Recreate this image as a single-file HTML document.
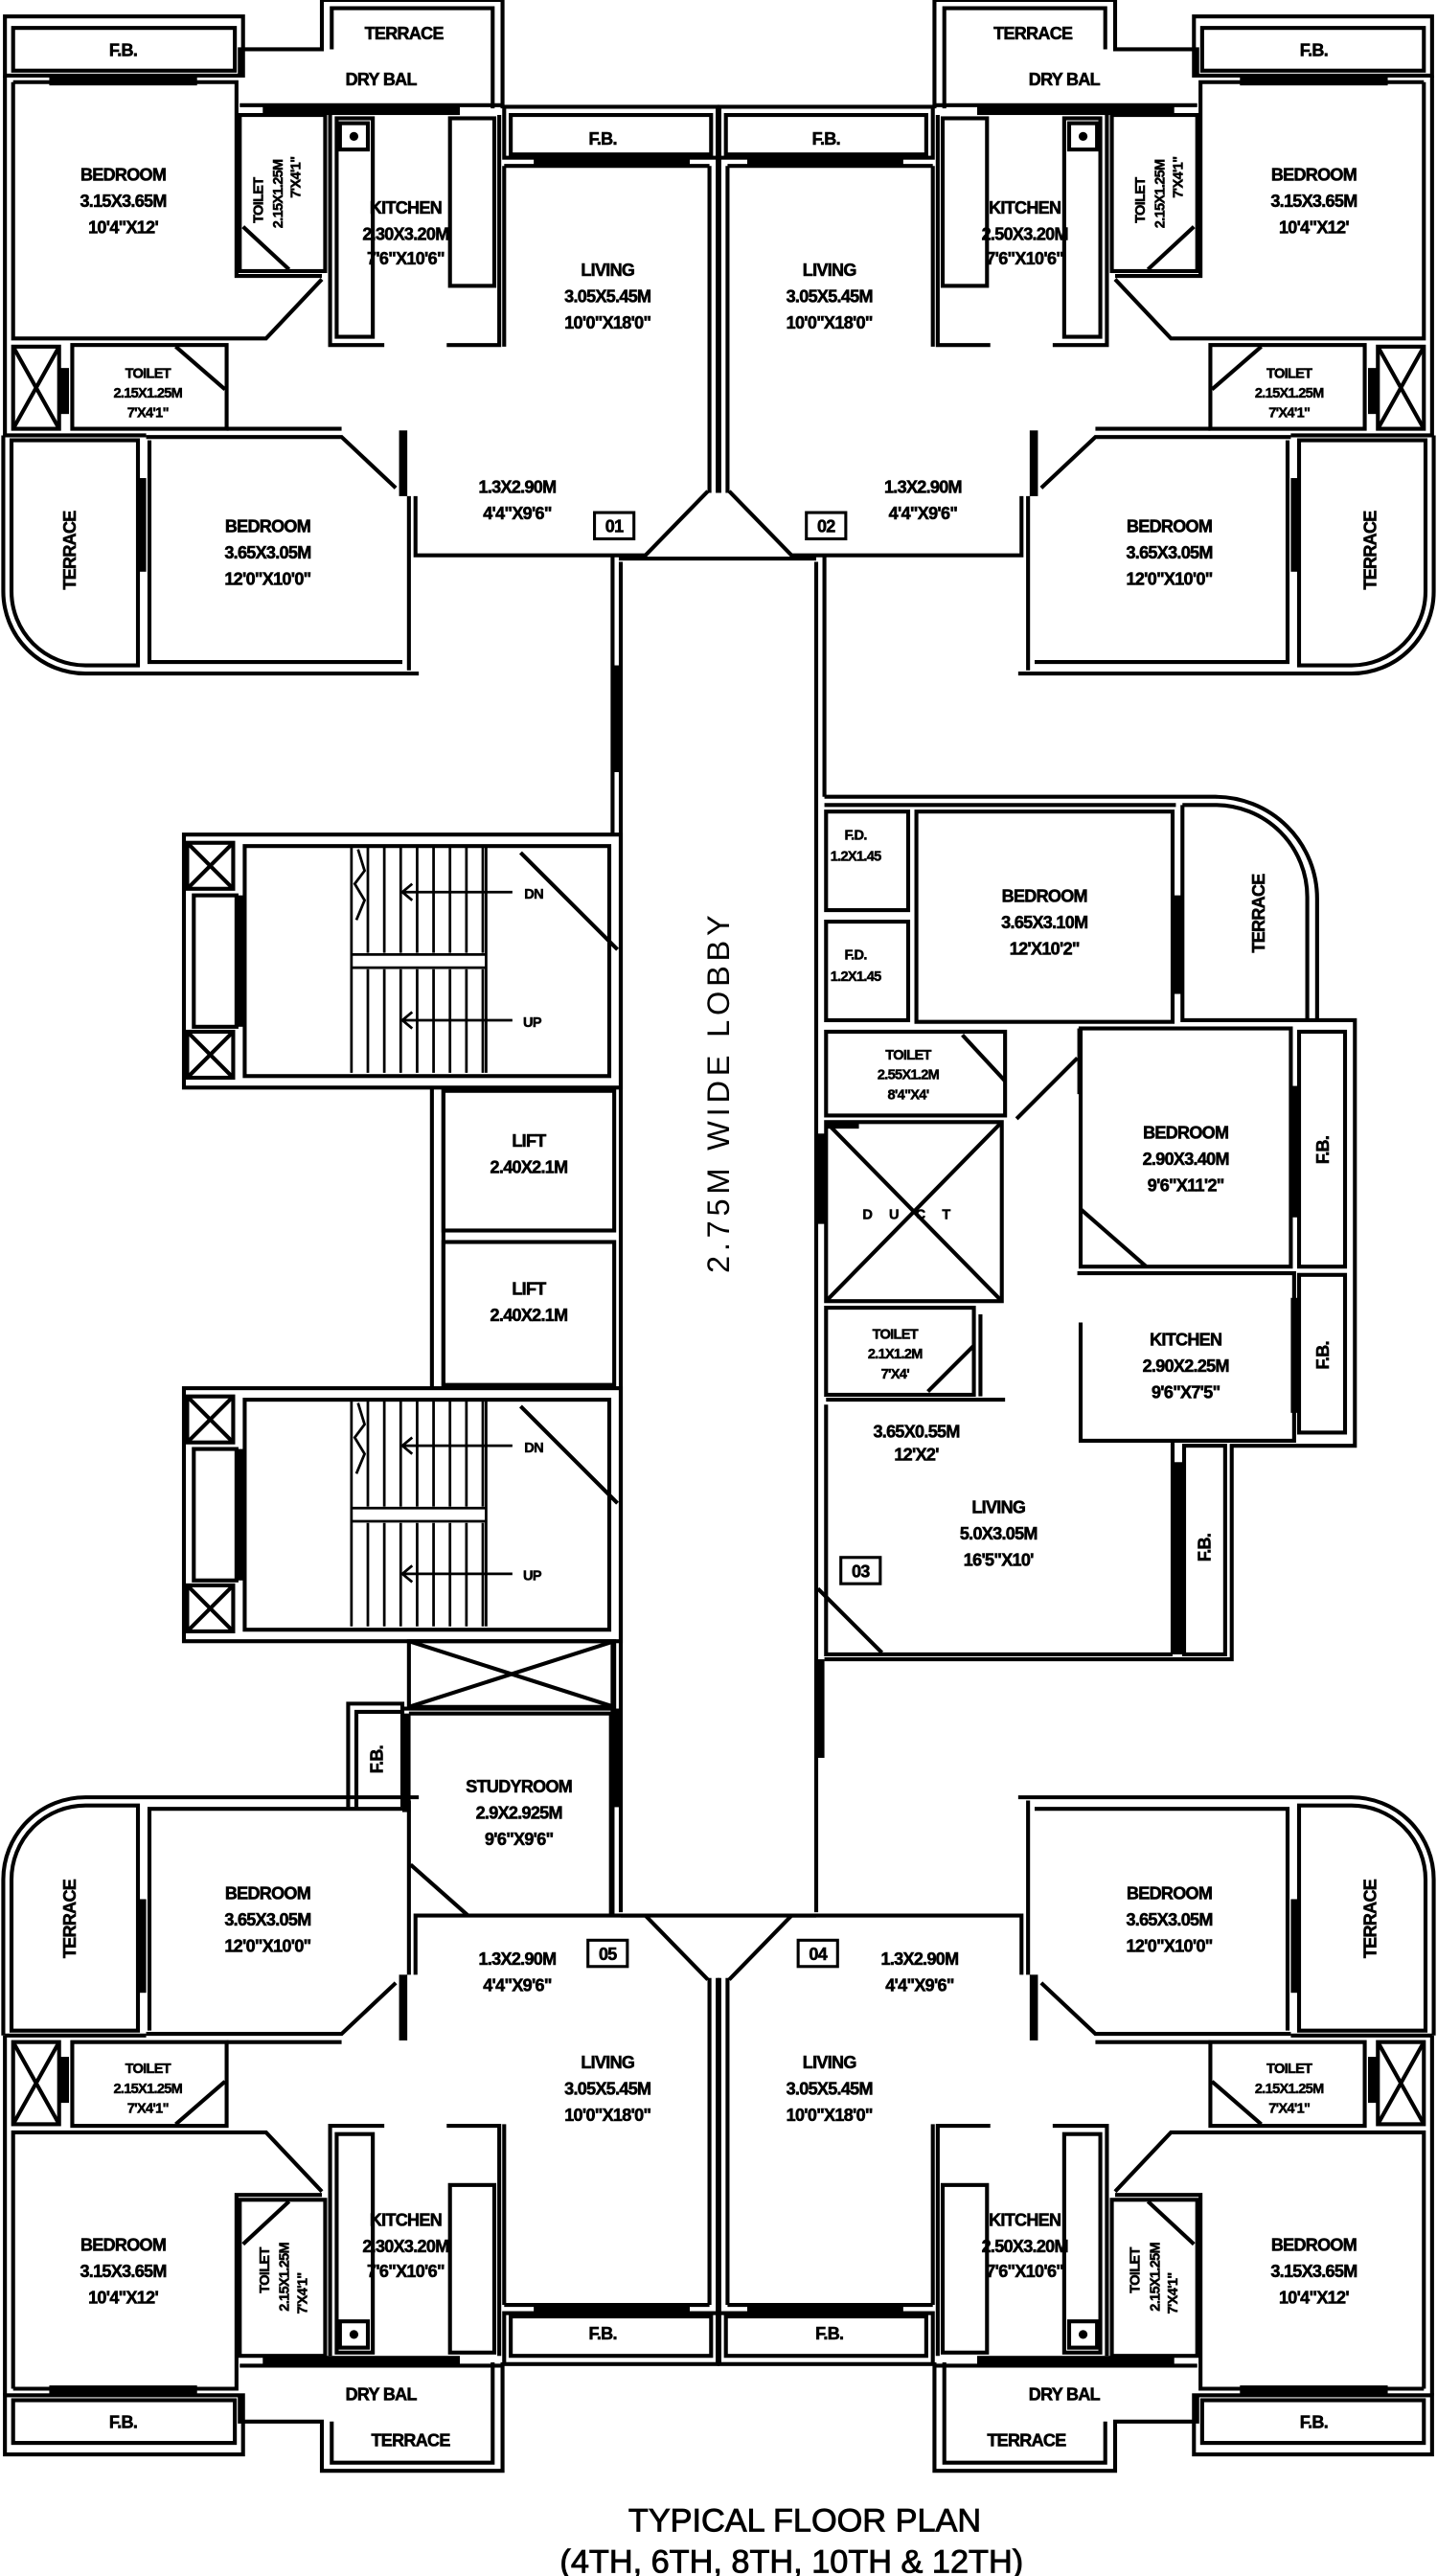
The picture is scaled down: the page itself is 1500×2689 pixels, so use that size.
<!DOCTYPE html>
<html><head><meta charset="utf-8"><style>
html,body{margin:0;padding:0;background:#fff}
svg{display:block}
text{font-family:"Liberation Sans",sans-serif;font-weight:bold;fill:#000;text-anchor:middle}
.l{font-size:10.5px;letter-spacing:-0.4px;stroke:#000;stroke-width:0.35px}
.s{font-size:8.5px;letter-spacing:-0.4px;stroke:#000;stroke-width:0.3px}
</style></head><body>
<svg width="1500" height="2689" viewBox="0 0 875 1568" preserveAspectRatio="none" xmlns="http://www.w3.org/2000/svg">
<defs>
<g id="u" fill="none" stroke="#000" stroke-width="2.4">
 <rect x="3" y="10" width="145" height="36"/>
 <rect x="8" y="17" width="135" height="26"/>
 <path d="M3,46 V265 M8,50 H144 V168 H196 M8,50 V206 H162 L196,170"/>
 <rect x="30" y="46" width="90" height="6" fill="#000" stroke="none"/>
 <path d="M146,46 V30 H196 V0 H306 V66 M202,30 V5 H300 V66 M146,64 H306"/>
 <rect x="160" y="65" width="120" height="5" fill="#000" stroke="none"/>
 <rect x="146" y="70" width="52" height="95"/>
 <path d="M148,138 L176,164"/>
 <path d="M201,70 V210 H234 M304,70 V210 H272"/>
 <rect x="205" y="72" width="22" height="133"/>
 <rect x="207" y="75" width="17" height="16"/>
 <circle cx="215.5" cy="83" r="1.5" fill="#000"/>
 <rect x="274" y="72" width="27" height="102"/>
 <rect x="307" y="65" width="130" height="31"/>
 <rect x="311" y="70" width="122" height="24"/>
 <rect x="325" y="95" width="95" height="6" fill="#000" stroke="none"/>
 <path d="M307,101 V211 M432,101 V300 M438,66 V300"/>
 <path d="M307,101 H432"/>
 <rect x="44" y="210" width="94" height="51"/>
 <path d="M107,211 L137,237"/>
 <rect x="8" y="211" width="28" height="50"/>
 <path d="M8,211 L36,261 M36,211 L8,261"/>
 <rect x="37" y="224" width="5" height="28" fill="#000" stroke="none"/>
 <path d="M3,265 H89 M138,261 H208"/>
 <path d="M89,266 H208 L241,297"/>
 <rect x="243" y="262" width="5" height="40" fill="#000" stroke="none"/>
 <path d="M249,302 V408 M253,302 V338 H393 L431,299"/>
 <path d="M7,268 H84 V405 H52 A45,45 0 0 1 7,360 Z"/>
 <path d="M2,265 V360 A50,50 0 0 0 52,410 H255"/>
 <rect x="84" y="291" width="5" height="57" fill="#000" stroke="none"/>
 <path d="M91,268 V403 H245"/>
</g>
<g id="st" fill="none" stroke="#000" stroke-width="2.4">
 <rect x="112" y="508" width="266" height="154"/>
 <rect x="149" y="515" width="222" height="140"/>
 <rect x="114" y="513" width="28" height="28"/>
 <path d="M114,513 L142,541 M142,513 L114,541"/>
 <rect x="114" y="628" width="28" height="28"/>
 <path d="M114,628 L142,656 M142,628 L114,656"/>
 <rect x="118" y="545" width="26" height="80"/>
 <rect x="144" y="545" width="5" height="80" fill="#000" stroke="none"/>
 <g stroke-width="1.6">
 <path d="M214,515 V653 M224,515 V580 M234,515 V580 M244,515 V580 M254,515 V580 M264,515 V580 M274,515 V580 M284,515 V580 M294,515 V580 M224,590 V653 M234,590 V653 M244,590 V653 M254,590 V653 M264,590 V653 M274,590 V653 M284,590 V653 M294,590 V653 M214,581 H296 M214,589 H296 M296,515 V653"/>
 <path d="M218,517 L222,530 L216,538 L222,548 L217,560"/>
 <path d="M245,543 H312 M251,538 L245,543 L251,548 M245,621 H312 M251,616 L245,621 L251,626"/>
 </g>
 <path d="M317,519 L376,578"/>
</g>
</defs>

<use href="#u"/>
<use href="#u" transform="translate(875,0) scale(-1,1)"/>
<use href="#u" transform="translate(0,1504) scale(1,-1)"/>
<use href="#u" transform="translate(875,1504) scale(-1,-1)"/>

<g fill="none" stroke="#000" stroke-width="2.4">
 <path d="M378,338 V340 H497 M378,1166 H497"/>
 <path d="M373,338 V508 M378,342 V1164 M497,342 V1164 M502,338 V485"/>
 <rect x="373" y="405" width="5" height="65" fill="#000" stroke="none"/>
 <rect x="497" y="690" width="5" height="55" fill="#000" stroke="none"/>
 <rect x="497" y="1010" width="5" height="60" fill="#000" stroke="none"/>
 <rect x="373" y="1040" width="5" height="60" fill="#000" stroke="none"/>
 <path d="M373,1000 V1166"/>
</g>
<use href="#st"/>
<use href="#st" transform="translate(0,337)"/>
<g fill="none" stroke="#000" stroke-width="2.4">
 <path d="M263,662 V845 M270,662 V845"/>
 <rect x="270" y="664" width="104" height="85"/>
 <rect x="270" y="756" width="104" height="87"/>
 <rect x="249" y="999" width="125" height="40"/>
 <path d="M249,999 L374,1039 M374,999 L249,1039"/>
 <path d="M245,1040 H374 M249,1043 H372 V1166"/>
 <path d="M212,1100 V1037 H245 V1100 M217,1100 V1042 H245"/>
 <rect x="245" y="1043" width="5" height="60" fill="#000" stroke="none"/>
 <path d="M250,1135 L285,1166"/>
 <path d="M502,485 H740 A62,62 0 0 1 802,547 V621 M502,490 H716 M720,490 H740 A56,56 0 0 1 796,546 V621"/>
 <rect x="503" y="494" width="50" height="60"/>
 <rect x="503" y="561" width="50" height="60"/>
 <rect x="558" y="494" width="156" height="128"/>
 <rect x="714" y="545" width="6" height="60" fill="#000" stroke="none"/>
 <path d="M720,490 V621 H825 V880 H750 V1010 H502"/>
 <rect x="503" y="628" width="109" height="51"/>
 <path d="M586,630 L612,658"/>
 <rect x="503" y="683" width="107" height="109"/>
 <path d="M503,683 L610,792 M610,683 L503,792"/>
 <rect x="503" y="682" width="20" height="5" fill="#000" stroke="none"/>
 <rect x="503" y="796" width="90" height="53"/>
 <path d="M565,847 L593,819 M597,800 V850 M503,852 H612"/>
 <rect x="658" y="626" width="128" height="145"/>
 <rect x="656" y="626" width="3" height="40" fill="#000" stroke="none"/>
 <path d="M658,736 L698,771 M619,681 L656,644"/>
 <rect x="791" y="628" width="28" height="143"/>
 <rect x="786" y="661" width="5" height="80" fill="#000" stroke="none"/>
 <path d="M656,775 H788 V877 H658 V805"/>
 <rect x="791" y="776" width="28" height="96"/>
 <rect x="786" y="790" width="5" height="70" fill="#000" stroke="none"/>
 <path d="M714,877 V1007 M503,855 V1007 H714"/>
 <rect x="721" y="880" width="25" height="127"/>
 <rect x="714" y="890" width="6" height="117" fill="#000" stroke="none"/>
 <path d="M498,967 L537,1006"/>
</g>

<g fill="none" stroke="#000" stroke-width="1.8">
 <rect x="362" y="312" width="24" height="16"/>
 <rect x="491" y="312" width="24" height="16"/>
 <rect x="358" y="1181" width="24" height="16"/>
 <rect x="486" y="1181" width="24" height="16"/>
 <rect x="512" y="948" width="24" height="16"/>
</g>
<g class="l">
<text x="374" y="324">01</text><text x="503" y="324">02</text>
<text x="370" y="1193">05</text><text x="498" y="1193">04</text>
<text x="524" y="960">03</text>
</g>

<g class="l">
 <text x="75" y="34">F.B.</text><text x="246" y="24">TERRACE</text><text x="232" y="52">DRY BAL</text><text x="367" y="88">F.B.</text>
 <text x="75" y="110">BEDROOM</text><text x="75" y="126">3.15X3.65M</text><text x="75" y="142">10'4"X12'</text>
 <text x="247" y="130">KITCHEN</text><text x="247" y="146">2.30X3.20M</text><text x="247" y="161">7'6"X10'6"</text>
 <text x="370" y="168">LIVING</text><text x="370" y="184">3.05X5.45M</text><text x="370" y="200">10'0"X18'0"</text>
 <text x="315" y="300">1.3X2.90M</text><text x="315" y="316">4'4"X9'6"</text>
 <text x="163" y="324">BEDROOM</text><text x="163" y="340">3.65X3.05M</text><text x="163" y="356">12'0"X10'0"</text>
 <text x="800" y="34">F.B.</text><text x="629" y="24">TERRACE</text><text x="648" y="52">DRY BAL</text><text x="503" y="88">F.B.</text>
 <text x="800" y="110">BEDROOM</text><text x="800" y="126">3.15X3.65M</text><text x="800" y="142">10'4"X12'</text>
 <text x="624" y="130">KITCHEN</text><text x="624" y="146">2.50X3.20M</text><text x="624" y="161">7'6"X10'6"</text>
 <text x="505" y="168">LIVING</text><text x="505" y="184">3.05X5.45M</text><text x="505" y="200">10'0"X18'0"</text>
 <text x="562" y="300">1.3X2.90M</text><text x="562" y="316">4'4"X9'6"</text>
 <text x="712" y="324">BEDROOM</text><text x="712" y="340">3.65X3.05M</text><text x="712" y="356">12'0"X10'0"</text>
 <text x="75" y="1478">F.B.</text><text x="250" y="1489">TERRACE</text><text x="232" y="1461">DRY BAL</text><text x="367" y="1424">F.B.</text>
 <text x="75" y="1370">BEDROOM</text><text x="75" y="1386">3.15X3.65M</text><text x="75" y="1402">10'4"X12'</text>
 <text x="247" y="1355">KITCHEN</text><text x="247" y="1371">2.30X3.20M</text><text x="247" y="1386">7'6"X10'6"</text>
 <text x="370" y="1259">LIVING</text><text x="370" y="1275">3.05X5.45M</text><text x="370" y="1291">10'0"X18'0"</text>
 <text x="315" y="1196">1.3X2.90M</text><text x="315" y="1212">4'4"X9'6"</text>
 <text x="163" y="1156">BEDROOM</text><text x="163" y="1172">3.65X3.05M</text><text x="163" y="1188">12'0"X10'0"</text>
 <text x="316" y="1091">STUDYROOM</text><text x="316" y="1107">2.9X2.925M</text><text x="316" y="1123">9'6"X9'6"</text>
 <text x="800" y="1478">F.B.</text><text x="625" y="1489">TERRACE</text><text x="648" y="1461">DRY BAL</text><text x="505" y="1424">F.B.</text>
 <text x="800" y="1370">BEDROOM</text><text x="800" y="1386">3.15X3.65M</text><text x="800" y="1402">10'4"X12'</text>
 <text x="624" y="1355">KITCHEN</text><text x="624" y="1371">2.50X3.20M</text><text x="624" y="1386">7'6"X10'6"</text>
 <text x="505" y="1259">LIVING</text><text x="505" y="1275">3.05X5.45M</text><text x="505" y="1291">10'0"X18'0"</text>
 <text x="560" y="1196">1.3X2.90M</text><text x="560" y="1212">4'4"X9'6"</text>
 <text x="712" y="1156">BEDROOM</text><text x="712" y="1172">3.65X3.05M</text><text x="712" y="1188">12'0"X10'0"</text>
 <text x="322" y="698">LIFT</text><text x="322" y="714">2.40X2.1M</text>
 <text x="322" y="788">LIFT</text><text x="322" y="804">2.40X2.1M</text>
 <text x="636" y="549">BEDROOM</text><text x="636" y="565">3.65X3.10M</text><text x="636" y="581">12'X10'2"</text>
 <text x="722" y="693">BEDROOM</text><text x="722" y="709">2.90X3.40M</text><text x="722" y="725">9'6"X11'2"</text>
 <text x="722" y="819">KITCHEN</text><text x="722" y="835">2.90X2.25M</text><text x="722" y="851">9'6"X7'5"</text>
 <text x="608" y="921">LIVING</text><text x="608" y="937">5.0X3.05M</text><text x="608" y="953">16'5"X10'</text>
 <text x="558" y="875">3.65X0.55M</text><text x="558" y="889">12'X2'</text>
</g>
<g class="s">
 <text x="90" y="230">TOILET</text><text x="90" y="242">2.15X1.25M</text><text x="90" y="254">7'X4'1"</text>
 <text x="785" y="230">TOILET</text><text x="785" y="242">2.15X1.25M</text><text x="785" y="254">7'X4'1"</text>
 <text x="90" y="1262">TOILET</text><text x="90" y="1274">2.15X1.25M</text><text x="90" y="1286">7'X4'1"</text>
 <text x="785" y="1262">TOILET</text><text x="785" y="1274">2.15X1.25M</text><text x="785" y="1286">7'X4'1"</text>
 <text x="521" y="511">F.D.</text><text x="521" y="524">1.2X1.45</text>
 <text x="521" y="584">F.D.</text><text x="521" y="597">1.2X1.45</text>
 <text x="553" y="645">TOILET</text><text x="553" y="657">2.55X1.2M</text><text x="553" y="669">8'4"X4'</text>
 <text x="545" y="815">TOILET</text><text x="545" y="827">2.1X1.2M</text><text x="545" y="839">7'X4'</text>
 <text x="325" y="547">DN</text><text x="324" y="625">UP</text>
 <text x="325" y="884">DN</text><text x="324" y="962">UP</text>
 <text x="557" y="742" style="letter-spacing:10px">DUCT</text>
 <text transform="translate(160,122) rotate(-90)">TOILET</text>
 <text transform="translate(172,118) rotate(-90)">2.15X1.25M</text>
 <text transform="translate(183,108) rotate(-90)">7'X4'1"</text>
 <text transform="translate(697,122) rotate(-90)">TOILET</text>
 <text transform="translate(709,118) rotate(-90)">2.15X1.25M</text>
 <text transform="translate(720,108) rotate(-90)">7'X4'1"</text>
 <text transform="translate(164,1382) rotate(-90)">TOILET</text>
 <text transform="translate(176,1386) rotate(-90)">2.15X1.25M</text>
 <text transform="translate(187,1396) rotate(-90)">7'X4'1"</text>
 <text transform="translate(694,1382) rotate(-90)">TOILET</text>
 <text transform="translate(706,1386) rotate(-90)">2.15X1.25M</text>
 <text transform="translate(717,1396) rotate(-90)">7'X4'1"</text>
</g>
<g class="l">
 <text transform="translate(46,335) rotate(-90)">TERRACE</text>
 <text transform="translate(838,335) rotate(-90)">TERRACE</text>
 <text transform="translate(46,1168) rotate(-90)">TERRACE</text>
 <text transform="translate(838,1168) rotate(-90)">TERRACE</text>
 <text transform="translate(770,556) rotate(-90)">TERRACE</text>
 <text transform="translate(809,700) rotate(-90)">F.B.</text>
 <text transform="translate(809,825) rotate(-90)">F.B.</text>
 <text transform="translate(737,942) rotate(-90)">F.B.</text>
 <text transform="translate(233,1071) rotate(-90)">F.B.</text>
</g>
<text transform="translate(444,665) rotate(-90)" style="font-size:19px;font-weight:normal;letter-spacing:2px" textLength="220">2.75M WIDE LOBBY</text>
<text x="490" y="1541" style="font-size:20px;font-weight:normal;stroke:#000;stroke-width:0.5px">TYPICAL FLOOR PLAN</text>
<text x="482" y="1566" style="font-size:20px;font-weight:normal;stroke:#000;stroke-width:0.5px">(4TH, 6TH, 8TH, 10TH &amp; 12TH)</text>
</svg>
</body></html>
